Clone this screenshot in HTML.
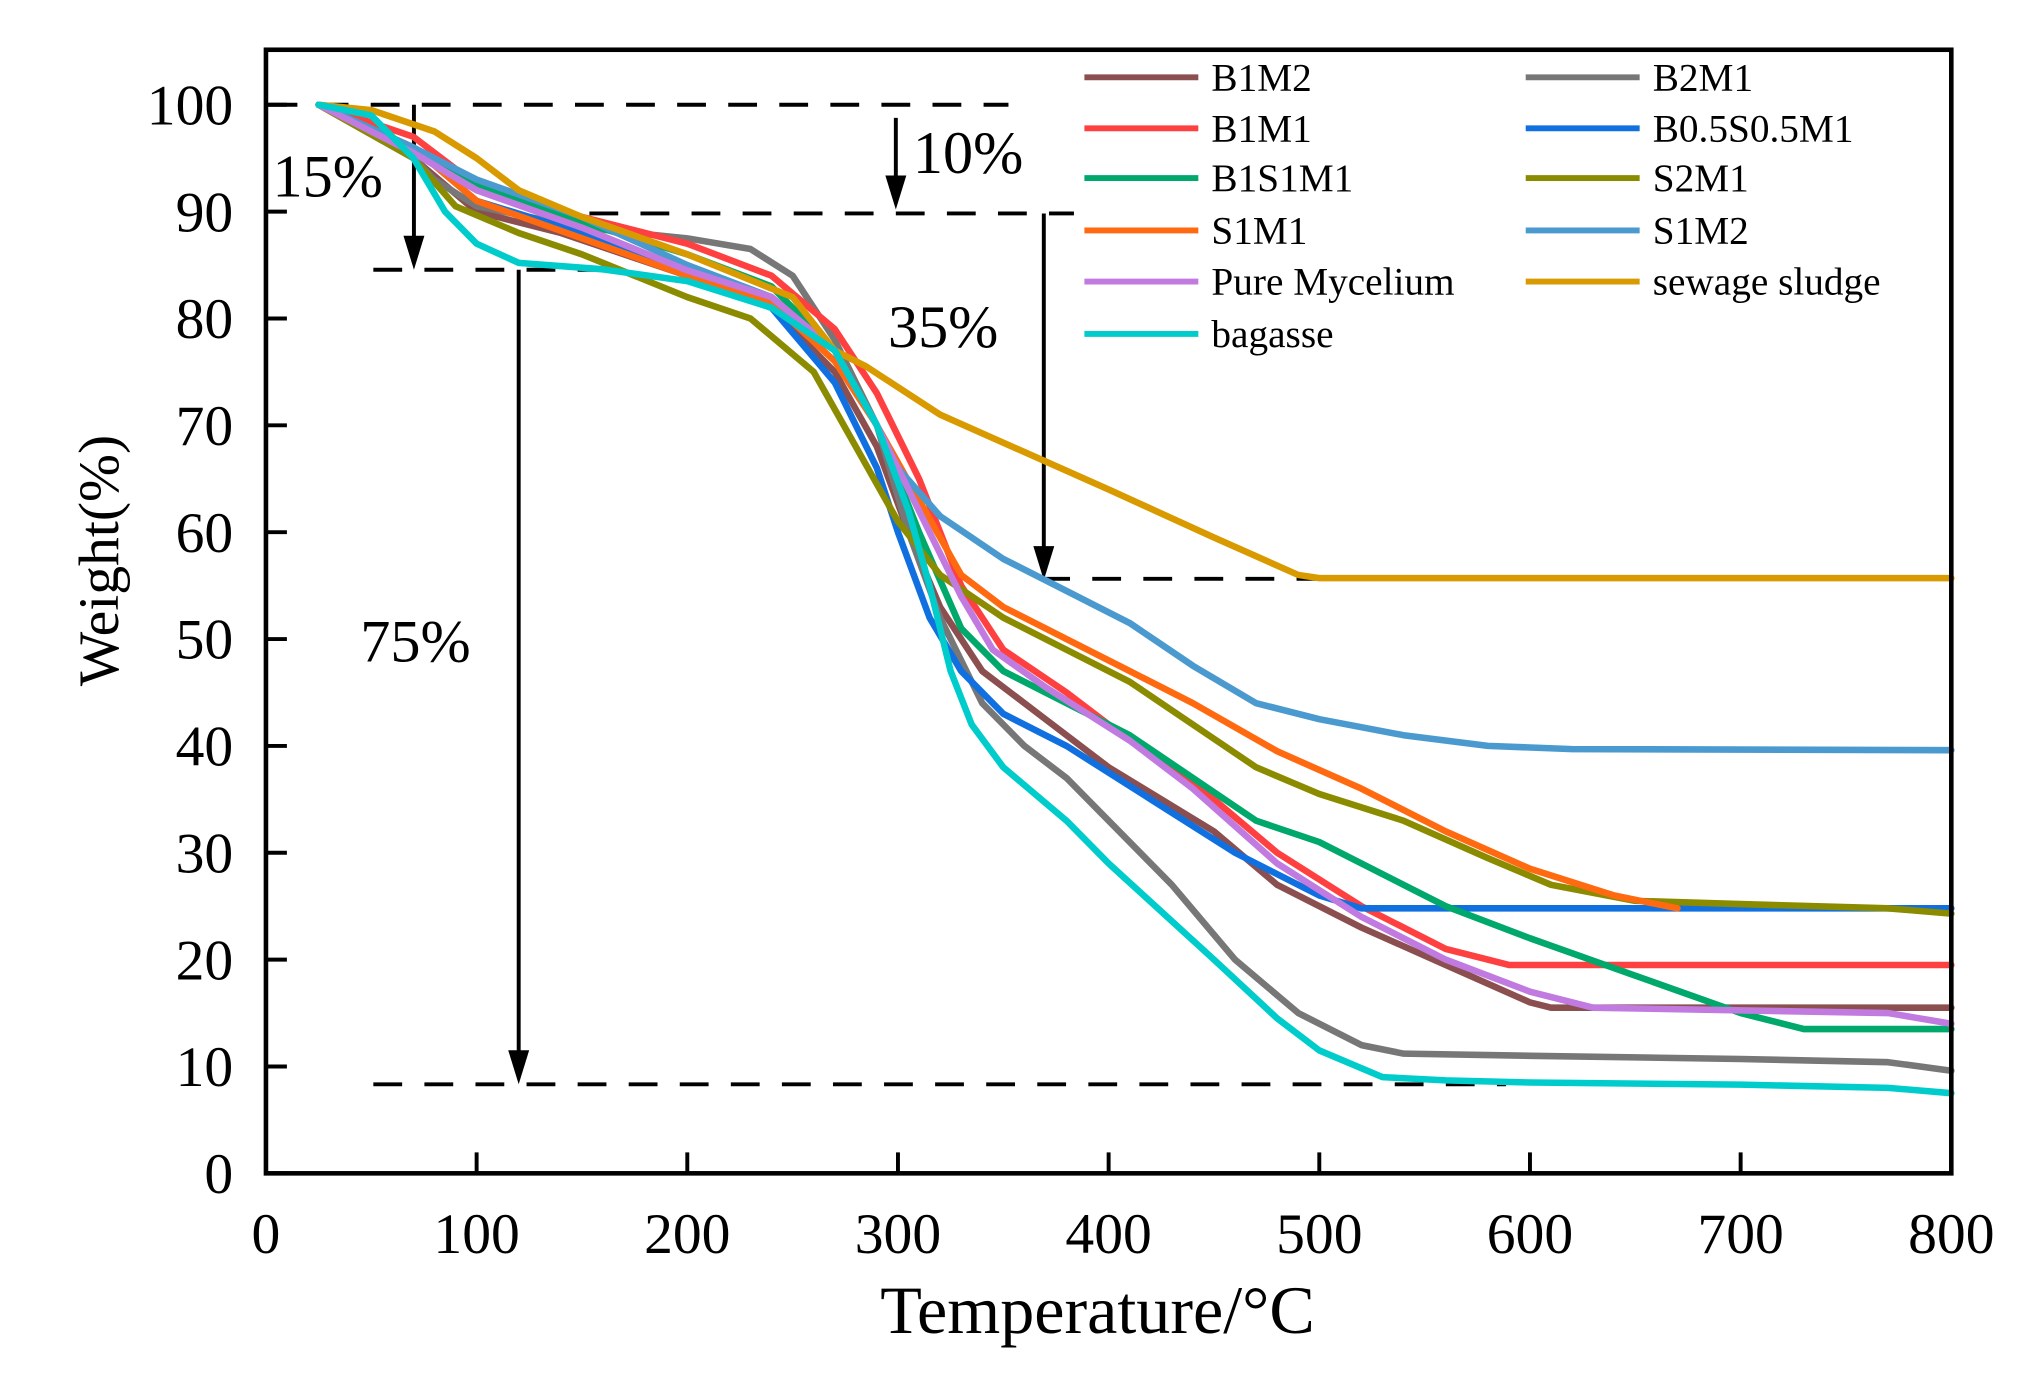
<!DOCTYPE html>
<html><head><meta charset="utf-8"><style>
html,body{margin:0;padding:0;background:#fff;}
svg{display:block;font-family:"Liberation Serif",serif;}
</style></head><body>
<svg id="chart" width="2030" height="1375" viewBox="0 0 1550 1050" xmlns="http://www.w3.org/2000/svg">
<g id="annotations"></g>
<g id="series"></g>
<rect x="203" y="38" width="1287" height="858" fill="none" stroke="#000" stroke-width="3.5"/>
<g id="axes"></g>
<g id="legend"></g>
<text x="838" y="1018" font-size="52" text-anchor="middle">Temperature/°C</text>
<text transform="translate(90,428) rotate(-90)" font-size="44" text-anchor="middle">Weight(%)</text>
</svg>
<script>
const xTicks=[0,100,200,300,400,500,600,700,800];
const yTicks=[0,10,20,30,40,50,60,70,80,90,100];
const seriesNames=["B1M2","B2M1","B1M1","B0.5S0.5M1","B1S1M1","S2M1","S1M1","S1M2","Pure Mycelium","sewage sludge","bagasse"];
const seriesColors=["#8B4F4F","#777777","#FF4040","#1070E0","#00A86B","#8B8B00","#FF6A10","#4A9AD0","#C07AE0","#D99A00","#00CCCC"];
const B1M2=[[25,100],[70,95],[100,90],[140,88],[200,84],[240,81],[270,75],[290,68],[305,60],[320,53],[340,47],[370,42.5],[400,38],[450,32],[480,27],[520,23],[560,19.5],[600,16],[610,15.5],[800,15.5]];
const B2M1=[[25,100],[60,97],[80,93],[100,90.5],[150,88.5],[200,87.5],[230,86.5],[250,84],[270,78],[290,70],[305,60],[320,52],[340,44],[360,40],[380,37],[400,33],[430,27],[460,20],[490,15],[520,12],[540,11.2],[600,11],[700,10.7],[770,10.4],[800,9.6]];
const B1M1=[[25,100],[70,97],[100,92.5],[150,89.5],[200,87],[240,84],[270,79],[290,73],[310,65],[330,55],[350,49],[380,45],[400,42],[450,35],[480,30],[520,25],[560,21],[590,19.5],[800,19.5]];
const B05S05M1=[[25,100],[70,96],[100,91],[150,88],[200,84],[240,81],[270,74],[290,66],[300,60],[315,52],[330,47],[350,43],[380,40],[420,35],[460,30],[500,26],[520,24.8],[800,24.8]];
const B1S1M1=[[25,100],[70,96],[100,92.5],[150,89],[200,86],[240,83],[270,77],[290,70],[310,60],[330,51],[350,47],[380,44],[410,41],[440,37],[470,33],[500,31],[530,28],[560,25],[600,22],[650,18.5],[700,15],[730,13.5],[800,13.5]];
const S2M1=[[25,100],[70,95],[90,90.5],[120,88],[150,86],[200,82],[230,80],[260,75],[280,68],[300,61],[320,56],[350,52],[380,49],[410,46],[440,42],[470,38],[500,35.5],[540,33],[580,29.5],[610,27],[650,25.5],[700,25.2],[770,24.8],[800,24.3]];
const S1M1=[[25,100],[70,96],[100,91],[150,87.5],[200,84],[240,81.5],[270,76],[290,70],[310,63],[330,56],[350,53],[380,50],[410,47],[440,44],[480,39.5],[520,36],[560,32],[600,28.5],[640,26],[670,24.8]];
const S1M2=[[25,100],[70,96],[100,93],[150,89.5],[200,85],[240,82],[270,77],[290,70],[300,66],[320,61.5],[350,57.5],[380,54.5],[410,51.5],[440,47.5],[470,44],[500,42.5],[540,41],[580,40],[620,39.7],[800,39.6]];
const PureMycelium=[[25,100],[70,95.5],[100,92],[150,88.5],[200,84.5],[240,82],[270,77],[290,70],[310,62],[330,54],[345,49],[370,45.5],[410,40.5],[440,36],[480,29],[520,24],[560,20],[600,17],[630,15.5],[770,15],[800,14]];
const sewageSludge=[[25,100],[50,99.5],[80,97.5],[100,95],[120,92],[150,89.5],[200,86],[250,82],[270,77],[285,75.5],[320,71],[360,67.5],[400,64],[450,59.5],[490,56],[500,55.7],[800,55.7]];
const bagasse=[[25,100],[50,99],[70,95],[85,90],[100,87],[120,85.2],[160,84.6],[200,83.5],[240,81],[270,77],[290,70],[305,62],[315,55],[325,47],[335,42],[350,38],[380,33],[400,29],[450,20],[480,14.5],[500,11.5],[530,9],[560,8.7],[600,8.5],[700,8.3],[770,8],[800,7.5]];
const seriesData=[B1M2,B2M1,B1M1,B05S05M1,B1S1M1,S2M1,S1M1,S1M2,PureMycelium,sewageSludge,bagasse];

const NS="http://www.w3.org/2000/svg";
const X=t=>203+t*1287/800;
const Y=w=>896-w*8.16;
function mk(tag,attrs,parent){const e=document.createElementNS(NS,tag);for(const k in attrs)e.setAttribute(k,attrs[k]);parent.appendChild(e);return e;}

const axes=document.getElementById('axes');
xTicks.forEach(t=>{
  const l=mk('line',{x1:X(t),x2:X(t),y1:896,y2:880,stroke:'#000','stroke-width':3},axes);
  
  
  const tx=mk('text',{x:X(t),y:957,'font-size':44,'text-anchor':'middle'},axes);
  tx.textContent=t;
  
  
});
yTicks.forEach(v=>{
  const l=mk('line',{x1:203,x2:219,y1:Y(v),y2:Y(v),stroke:'#000','stroke-width':3},axes);
  
  
  const tx=mk('text',{x:178,y:Y(v)+15,'font-size':44,'text-anchor':'end'},axes);
  tx.textContent=v;
  
  
});

const sg=document.getElementById('series');
seriesData.forEach((d,i)=>{
  const p=mk('polyline',{points:d.map(q=>X(q[0])+','+Y(q[1])).join(' '),fill:'none',stroke:seriesColors[i],'stroke-width':5,'stroke-linejoin':'round','stroke-linecap':'round'},sg);
  
  
});

const an=document.getElementById('annotations');
[[205,770,80],[450,820,163],[285,460,206],[795,1050,442],[285,1150,828]].forEach(d=>{
  const l=mk('line',{x1:d[0],x2:d[1],y1:d[2],y2:d[2],stroke:'#000','stroke-width':3,'stroke-dasharray':'22,17'},an);
  
  
});
[[316,80,206],[684,90,160],[797,163,443],[396,206,828]].forEach(d=>{
  const l=mk('line',{x1:d[0],x2:d[0],y1:d[1],y2:d[2]-22,stroke:'#000','stroke-width':3},an);
  
  
  const h=mk('polygon',{points:`${d[0]-8},${d[2]-26} ${d[0]+8},${d[2]-26} ${d[0]},${d[2]}`,fill:'#000'},an);
  
  
});
[["15%",208,150],["10%",697,132],["35%",678,265],["75%",275,505]].forEach(d=>{
  const t=mk('text',{x:d[1],y:d[2],'font-size':46},an);
  t.textContent=d[0];
  
  
});

const lg=document.getElementById('legend');
const rowsY=[59,98,136,176,215,255];
seriesNames.forEach((n,i)=>{
  const col=i%2,row=Math.floor(i/2);
  const x0=col?1165:828,y=rowsY[row];
  const l=mk('line',{x1:x0,x2:x0+87,y1:y,y2:y,stroke:seriesColors[i],'stroke-width':4.5},lg);
  
  
  const t=mk('text',{x:x0+97,y:y+10,'font-size':30},lg);
  t.textContent=n;
  
  
});
</script>
</body></html>
